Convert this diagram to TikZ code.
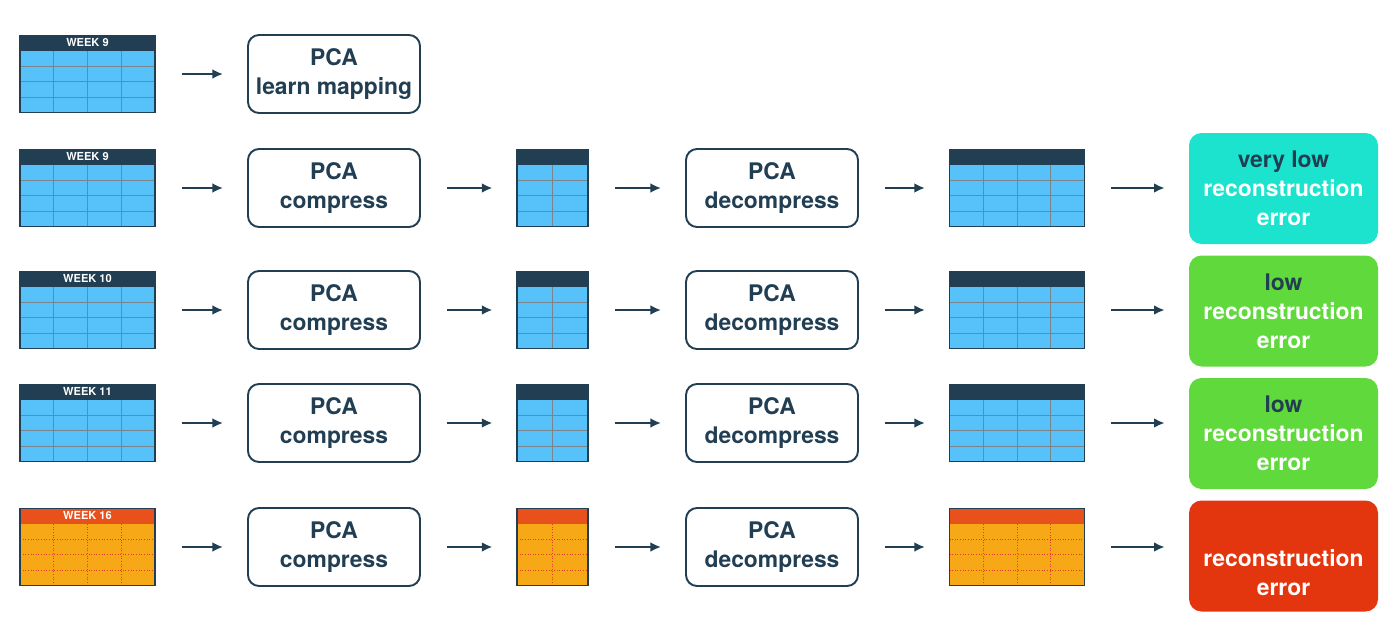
\documentclass[tikz,border=0pt]{standalone}
\usepackage{fontspec}
\setmainfont{TeX Gyre Heros}
\usetikzlibrary{calc,arrows.meta}

\definecolor{navy}{RGB}{33,62,83}
\definecolor{sheetblue}{RGB}{87,194,249}
\definecolor{sheetorange}{RGB}{246,168,23}
\definecolor{headred}{RGB}{232,80,28}
\definecolor{gridgray}{RGB}{122,132,140}
\definecolor{gridred}{RGB}{225,60,40}
\definecolor{errcyan}{RGB}{27,227,205}
\definecolor{errgreen}{RGB}{96,217,61}
\definecolor{errred}{RGB}{227,54,15}

% header band and cell lines of a sheet, #1 = number of columns
\newcommand{\sheetlines}[1]{%
  \fill[headfill] (path picture bounding box.north west) rectangle ([yshift=-3mm]path picture bounding box.north east);
  \foreach \k in {1,2,3}
    \draw[gridline] ($(path picture bounding box.south west)!\k/4!([yshift=-3mm]path picture bounding box.north west)$) -- ($(path picture bounding box.south east)!\k/4!([yshift=-3mm]path picture bounding box.north east)$);
  \pgfmathtruncatemacro\lastcol{#1-1}
  \foreach \k in {1,...,\lastcol}
    \draw[gridline] ($(path picture bounding box.south west)!\k/#1!(path picture bounding box.south east)$) -- ($([yshift=-3mm]path picture bounding box.north west)!\k/#1!([yshift=-3mm]path picture bounding box.north east)$);
}

\tikzset{
  gridline/.style={gridgray, line width=0.5pt},
  headfill/.style={fill=navy},
  bigsheet/.style={draw=navy, line width=0.6pt, fill=sheetblue, minimum width=2.7cm, minimum height=1.54cm, inner sep=0pt, path picture={\sheetlines{4}}},
  smallsheet/.style={bigsheet, minimum width=1.42cm, path picture={\sheetlines{2}}},
  hot/.style={fill=sheetorange, gridline/.style={gridred, densely dotted, line width=0.5pt}, headfill/.style={fill=headred}},
  week/.style={anchor=north, inner sep=2pt, text=white, font=\fontsize{6.3}{7}\selectfont\bfseries},
  pca/.style={draw=navy, line width=1.1pt, rounded corners=0.22cm, minimum width=3.44cm, minimum height=1.56cm, align=center, text=navy, font=\fontsize{13}{16.5}\selectfont\bfseries},
  err/.style={rounded corners=0.25cm, minimum width=3.78cm, minimum height=2.22cm, align=center, text=white, font=\fontsize{13}{16.5}\selectfont\bfseries},
  flow/.style={navy, line width=1.2pt, -{Latex[length=6pt,width=5.5pt]}, shorten <=0.52cm, shorten >=0.48cm},
}

\begin{document}
\begin{tikzpicture}
\useasboundingbox (0,0) rectangle (28,12.6);
% Learn:
\node[bigsheet, label={[week]north:WEEK 9}] (s0) at (1.75,11.12) {};
\node[pca] (learn) at (6.68,11.12) {PCA\\learn mapping};
\draw[flow] (s0) -- (learn);
% Week 9:
\node[bigsheet, label={[week]north:WEEK 9}] (s1) at (1.75,8.84) {};
\node[pca] (c1) at (6.68,8.84) {PCA\\compress};
\node[smallsheet] (z1) at (11.05,8.84) {};
\node[pca] (d1) at (15.44,8.84) {PCA\\decompress};
\node[bigsheet] (r1) at (20.34,8.84) {};
\node[err, fill=errcyan] (e1) at (25.67,8.83) {\textcolor{navy}{very low}\\reconstruction\\error};
\draw[flow] (s1) -- (c1);
\draw[flow] (c1) -- (z1);
\draw[flow] (z1) -- (d1);
\draw[flow] (d1) -- (r1);
\draw[flow] (r1.east) -- (r1.east -| e1.west);
% Week 10:
\node[bigsheet, label={[week]north:WEEK 10}] (s2) at (1.75,6.40) {};
\node[pca] (c2) at (6.68,6.40) {PCA\\compress};
\node[smallsheet] (z2) at (11.05,6.40) {};
\node[pca] (d2) at (15.44,6.40) {PCA\\decompress};
\node[bigsheet] (r2) at (20.34,6.40) {};
\node[err, fill=errgreen] (e2) at (25.67,6.38) {\textcolor{navy}{low}\\reconstruction\\error};
\draw[flow] (s2) -- (c2);
\draw[flow] (c2) -- (z2);
\draw[flow] (z2) -- (d2);
\draw[flow] (d2) -- (r2);
\draw[flow] (r2.east) -- (r2.east -| e2.west);
% Week 11:
\node[bigsheet, label={[week]north:WEEK 11}] (s3) at (1.75,4.14) {};
\node[pca] (c3) at (6.68,4.14) {PCA\\compress};
\node[smallsheet] (z3) at (11.05,4.14) {};
\node[pca] (d3) at (15.44,4.14) {PCA\\decompress};
\node[bigsheet] (r3) at (20.34,4.14) {};
\node[err, fill=errgreen] (e3) at (25.67,3.93) {\textcolor{navy}{low}\\reconstruction\\error};
\draw[flow] (s3) -- (c3);
\draw[flow] (c3) -- (z3);
\draw[flow] (z3) -- (d3);
\draw[flow] (d3) -- (r3);
\draw[flow] (r3.east) -- (r3.east -| e3.west);
% Week 16:
\node[bigsheet, hot, label={[week]north:WEEK 16}] (s4) at (1.75,1.66) {};
\node[pca] (c4) at (6.68,1.66) {PCA\\compress};
\node[smallsheet, hot] (z4) at (11.05,1.66) {};
\node[pca] (d4) at (15.44,1.66) {PCA\\decompress};
\node[bigsheet, hot] (r4) at (20.34,1.66) {};
\node[err, fill=errred] (e4) at (25.67,1.48) {\strut\\reconstruction\\error};
\draw[flow] (s4) -- (c4);
\draw[flow] (c4) -- (z4);
\draw[flow] (z4) -- (d4);
\draw[flow] (d4) -- (r4);
\draw[flow] (r4.east) -- (r4.east -| e4.west);
\end{tikzpicture}
\end{document}
